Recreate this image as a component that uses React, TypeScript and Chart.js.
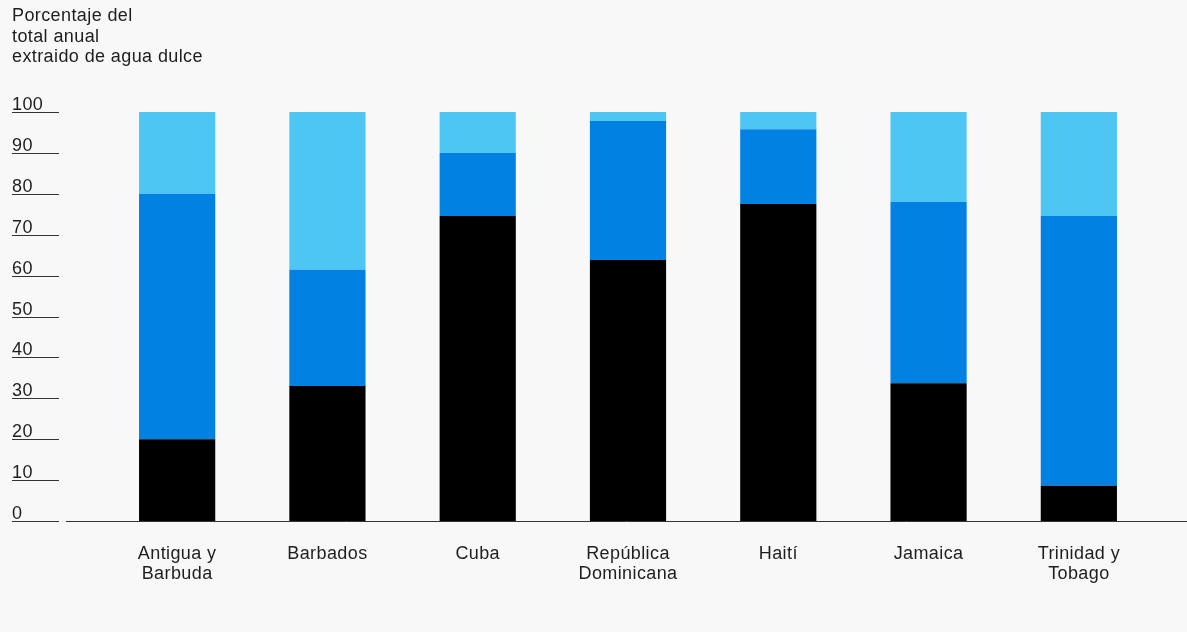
import React, { useEffect, useRef } from "react";
import { Chart, registerables } from "chart.js";

Chart.register(...registerables);

const categories: string[][] = [
  ["Antigua y", "Barbuda"],
  ["Barbados"],
  ["Cuba"],
  ["República", "Dominicana"],
  ["Haití"],
  ["Jamaica"],
  ["Trinidad y", "Tobago"],
];

const agricultura = [20, 33, 74.6, 63.8, 77.5, 33.7, 8.6];
const industria = [60, 28.4, 15.4, 34, 18.3, 44.3, 66];
const municipal = [20, 38.6, 10, 2.2, 4.2, 22, 25.4];

const yTicks = [0, 10, 20, 30, 40, 50, 60, 70, 80, 90, 100];
const yTitle = ["Porcentaje del", "total anual", "extraido de agua dulce"];

const FONT = '"Liberation Sans", Arial, Helvetica, sans-serif';
const TEXT = "#1e1e1e";

const customAxes = {
  id: "customAxes",
  afterDraw(chart: any) {
    const ctx = chart.ctx;
    const y = chart.scales.y;
    const x = chart.scales.x;
    ctx.save();
    ctx.font = `18px ${FONT}`;
    try { (ctx as any).letterSpacing = "0.4px"; } catch (e) {}
    ctx.fillStyle = TEXT;
    ctx.textAlign = "left";
    ctx.textBaseline = "alphabetic";
    yTitle.forEach((t, i) => ctx.fillText(t, 12, 21 + i * 20.5));
    ctx.strokeStyle = "#333";
    ctx.lineWidth = 1;
    yTicks.forEach((v) => {
      const py = Math.round(y.getPixelForValue(v)) + 0.5;
      ctx.fillText(String(v), 12, py - 3);
      ctx.beginPath();
      ctx.moveTo(12, py);
      ctx.lineTo(59, py);
      ctx.stroke();
    });
    const base = Math.round(y.getPixelForValue(0)) + 0.5;
    ctx.beginPath();
    ctx.moveTo(66, base);
    ctx.lineTo(chart.width, base);
    ctx.stroke();
    ctx.textAlign = "center";
    categories.forEach((lines, i) => {
      const px = x.getPixelForValue(i);
      lines.forEach((l, j) => ctx.fillText(l, px, 559 + j * 20));
    });
    ctx.restore();
  },
};

const bg = {
  id: "bg",
  beforeDraw(chart: any) {
    const ctx = chart.ctx;
    ctx.save();
    ctx.fillStyle = "#f8f8f8";
    ctx.fillRect(0, 0, chart.width, chart.height);
    ctx.restore();
  },
};

export default function App() {
  const ref = useRef<HTMLCanvasElement>(null);
  useEffect(() => {
    if (!ref.current) return;
    const chart = new Chart(ref.current, {
      type: "bar",
      data: {
        labels: categories.map((c) => c.join(" ")),
        datasets: [
          { label: "Agricultura", data: agricultura, backgroundColor: "#000000" },
          { label: "Industria", data: industria, backgroundColor: "#0181e2" },
          { label: "Municipal", data: municipal, backgroundColor: "#4ec6f3" },
        ],
      },
      options: {
        responsive: false,
        animation: false,
        layout: { padding: { left: 102, right: 33, top: 112, bottom: 111 } },
        datasets: { bar: { categoryPercentage: 1, barPercentage: 0.507 } },
        plugins: { legend: { display: false }, tooltip: { enabled: false } },
        scales: {
          x: { stacked: true, display: false },
          y: { stacked: true, display: false, min: 0, max: 100 },
        },
      },
      plugins: [bg, customAxes],
    });
    return () => chart.destroy();
  }, []);
  return (
    <div style={{ position: "absolute", left: 0, top: 0, width: 1187, height: 632, background: "#f8f8f8" }}>
      <canvas ref={ref} width={1187} height={632} style={{ display: "block" }} />
    </div>
  );
}
